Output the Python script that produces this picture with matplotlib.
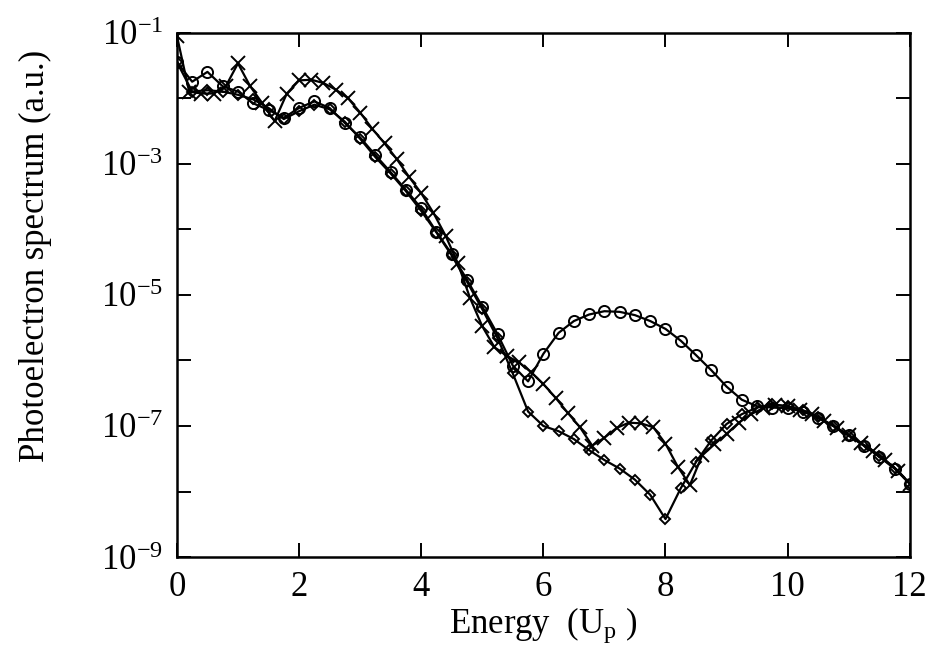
import matplotlib
matplotlib.use('Agg')
import matplotlib.pyplot as plt
import numpy as np

plt.rcParams['font.family'] = 'Liberation Serif'
plt.rcParams['mathtext.fontset'] = 'custom'
plt.rcParams['mathtext.rm'] = 'Liberation Serif'
plt.rcParams['mathtext.it'] = 'Liberation Serif:italic'

# energy grids (in units of Up)
e_cross = np.linspace(0, 12, 61)
e_circ = np.linspace(0, 12, 49)
e_diam = np.linspace(0, 12, 49)

# log10 of the photoelectron spectrum
log_cross = [-1.05, -1.90, -1.93, -1.93, -1.82, -1.47, -1.82, -2.08, -2.35, -1.93,
             -1.73, -1.72, -1.77, -1.87, -2.00, -2.22, -2.47, -2.69, -2.93, -3.20,
             -3.45, -3.75, -4.10, -4.52, -5.05, -5.48, -5.80, -5.93, -6.03, -6.18,
             -6.36, -6.57, -6.80, -7.02, -7.30, -7.18, -7.03, -6.95, -6.96, -7.02,
             -7.27, -7.62, -7.90, -7.45, -7.28, -7.12, -6.95, -6.82, -6.73, -6.68,
             -6.70, -6.75, -6.82, -6.92, -7.03, -7.14, -7.26, -7.38, -7.52, -7.68,
             -7.88]
log_circ = [-1.45, -1.75, -1.60, -1.82, -1.90, -2.08, -2.18, -2.30, -2.15, -2.05,
            -2.15, -2.38, -2.60, -2.87, -3.13, -3.40, -3.68, -4.04, -4.38, -4.77,
            -5.18, -5.60, -6.08, -6.32, -5.90, -5.58, -5.40, -5.30, -5.25, -5.26,
            -5.31, -5.40, -5.52, -5.70, -5.92, -6.15, -6.40, -6.60, -6.70, -6.72,
            -6.73, -6.78, -6.88, -7.00, -7.14, -7.30, -7.47, -7.65, -7.88]
log_diam = [-1.45, -1.90, -1.88, -1.90, -1.95, -2.02, -2.15, -2.32, -2.20, -2.10,
            -2.17, -2.36, -2.62, -2.90, -3.15, -3.42, -3.72, -4.05, -4.40, -4.80,
            -5.22, -5.66, -6.20, -6.78, -7.00, -7.08, -7.20, -7.37, -7.52, -7.65,
            -7.82, -8.05, -8.42, -7.95, -7.55, -7.22, -6.97, -6.82, -6.72, -6.67,
            -6.70, -6.76, -6.86, -7.00, -7.15, -7.30, -7.46, -7.64, -7.88]

xticks = [0, 2, 4, 6, 8, 10, 12]
ydecades = [-1, -2, -3, -4, -5, -6, -7, -8, -9]

fig = plt.figure(figsize=(9.36, 6.64), dpi=100)
ax = fig.add_axes([0.189, 0.161, 0.783, 0.790])

line_kw = dict(color='black', lw=1.6, mfc='none', mec='black', mew=1.4)
ax.plot(e_circ, 10.0 ** np.array(log_circ), marker='o', ms=8, **line_kw)
ax.plot(e_diam, 10.0 ** np.array(log_diam), marker='D', ms=5.5, **line_kw)
ax.plot(e_cross, 10.0 ** np.array(log_cross), marker='x', ms=9.5, **line_kw)

ax.set_yscale('log')
ax.set_xlim(0, 12)
ax.set_ylim(1e-9, 1e-1)
ax.set_xticks(xticks)
ax.set_xticklabels([str(t) for t in xticks])
ax.set_yticks([10.0 ** d for d in ydecades])
ax.set_yticklabels([r'$10^{\mathrm{-%d}}$' % -d if d % 2 else '' for d in ydecades])
ax.yaxis.set_minor_locator(matplotlib.ticker.NullLocator())

ax.tick_params(direction='in', length=10, width=1.4, labelsize=25,
               top=True, right=True, pad=10)
for s in ax.spines.values():
    s.set_linewidth(1.8)

ax.set_xlabel(r'Energy  (U$_{\mathrm{p}}$ )', fontsize=25, labelpad=1)
ax.set_ylabel('Photoelectron spectrum (a.u.)', fontsize=25)
ax.yaxis.set_label_coords(-0.17, 0.575)

fig.savefig('out.png', dpi=100)
